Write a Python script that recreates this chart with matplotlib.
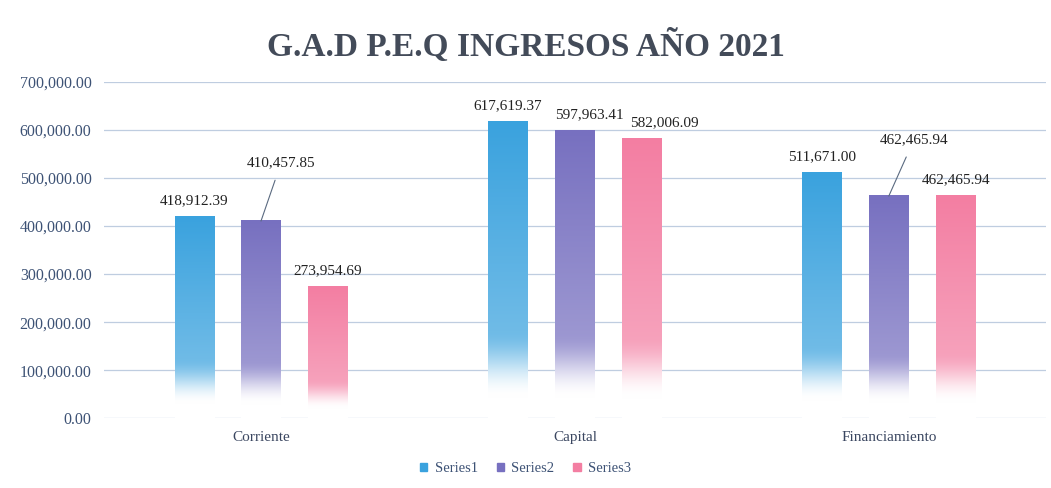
import numpy as np
import matplotlib
matplotlib.use("Agg")
import matplotlib.pyplot as plt
from matplotlib.colors import to_rgb

categories = ["Corriente", "Capital", "Financiamiento"]
series_names = ["Series1", "Series2", "Series3"]
series1 = [418912.39, 617619.37, 511671.00]
series2 = [410457.85, 597963.41, 462465.94]
series3 = [273954.69, 582006.09, 462465.94]
series = [series1, series2, series3]
colors = ["#3aa2de", "#7770c0", "#f37ea2"]
yticks = [0, 100000, 200000, 300000, 400000, 500000, 600000, 700000]

plt.rcParams['font.family'] = ['Liberation Serif', 'DejaVu Serif']

fig = plt.figure(figsize=(10.51, 4.88), dpi=100)
ax = fig.add_axes([0.099, 0.143, 0.896, 0.689])

x = np.arange(len(categories))
width = 0.125
offset = 0.213

def gradient_img(color):
    r, g, b = to_rgb(color)
    t = np.linspace(0, 1, 256)[:, None]  # 0 bottom -> 1 top
    s = np.clip((t - 0.07) / 0.22, 0, 1)
    s = s * s * (3 - 2 * s)
    m = (0.62 + 0.38 * t) * s
    img = np.zeros((256, 1, 3))
    img[..., 0] = 1 - m * (1 - r)
    img[..., 1] = 1 - m * (1 - g)
    img[..., 2] = 1 - m * (1 - b)
    return img

all_bars = []
for i, (vals, col, name) in enumerate(zip(series, colors, series_names)):
    bars = ax.bar(x + (i - 1) * offset, vals, width, facecolor='none',
                  edgecolor='none', label=name, zorder=3)
    img = gradient_img(col)
    for p in bars:
        x0, w, h = p.get_x(), p.get_width(), p.get_height()
        ax.imshow(img, extent=[x0, x0 + w, 0, h], origin='lower',
                  aspect='auto', zorder=3, interpolation='bilinear')
    all_bars.append(bars)

ax.set_xlim(-0.5, 2.5)
ax.set_ylim(0, 700000)
ax.set_yticks(yticks)
ax.set_yticklabels([f"{v:,.2f}" for v in yticks])
ax.set_xticks(x)
ax.set_xticklabels(categories)
ax.tick_params(axis='y', length=0, pad=9, labelsize=11.5, labelcolor='#3d5275')
ax.tick_params(axis='x', length=0, pad=9, labelsize=11, labelcolor='#3a4660')
ax.grid(axis='y', color='#bfcde0', linewidth=0.9, zorder=0)
ax.set_axisbelow(True)
for sp in ax.spines.values():
    sp.set_visible(False)

# data labels
leader = {(1, 0): (20, 58), (1, 2): (25, 56)}
shift = {(1, 1): 14, (1, 2): 23}
for i, bars in enumerate(all_bars):
    for j, p in enumerate(bars):
        v = series[i][j]
        cx = p.get_x() + p.get_width() / 2
        lab = f"{v:,.2f}"
        if (i, j) in leader:
            dx, dy = leader[(i, j)]
            ax.annotate(lab, xy=(cx, v), xytext=(dx, dy), textcoords='offset pixels',
                        ha='center', va='center', fontsize=11, color='#222222',
                        arrowprops=dict(arrowstyle='-', color='#5a6a80', lw=0.8,
                                        shrinkA=6, shrinkB=0), zorder=5)
        else:
            ax.annotate(lab, xy=(cx, v), xytext=(shift.get((j, i), 0), 16),
                        textcoords='offset pixels', ha='center', va='center',
                        fontsize=11, color='#222222', zorder=5)

fig.text(0.5, 0.905, "G.A.D P.E.Q INGRESOS AÑO 2021", ha='center', va='center',
         fontsize=24, fontweight='bold', color='#434b59')

handles = [plt.Rectangle((0, 0), 1, 1, color=c) for c in colors]
leg = fig.legend(handles, series_names, loc='center', bbox_to_anchor=(0.5, 0.04),
                 ncol=3, frameon=False, fontsize=10.5, handlelength=0.5,
                 handleheight=0.5, handletextpad=0.5, columnspacing=1.3)
for t in leg.get_texts():
    t.set_color('#3d5275')

fig.savefig("out.png", dpi=100)
